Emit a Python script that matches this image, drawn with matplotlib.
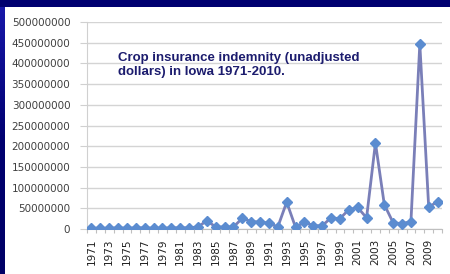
import matplotlib
matplotlib.use("Agg")
import matplotlib.pyplot as plt
import numpy as np
from matplotlib.ticker import FixedLocator
from matplotlib.colors import LinearSegmentedColormap

years = list(range(1971, 2011))
indemnity = [2e6, 2e6, 2e6, 3e6, 2e6, 3e6, 3e6, 2e6, 2e6, 3e6,
             3e6, 3e6, 5e6, 20e6, 5e6, 5e6, 5e6, 26e6, 18e6, 17e6,
             14e6, 5e6, 65e6, 4e6, 17e6, 8e6, 8e6, 27e6, 25e6, 47e6,
             52e6, 27e6, 208e6, 59e6, 15e6, 13e6, 18e6, 447e6, 53e6, 66e6]
yticks = list(range(0, 500000001, 50000000))
title_text = "Crop insurance indemnity (unadjusted\ndollars) in Iowa 1971-2010."

fig = plt.figure(figsize=(4.5, 2.74), dpi=100)
fig.patch.set_facecolor("white")

# frame bands
bg = fig.add_axes([0, 0, 1, 1], zorder=-10)
bg.axis("off")
bg.add_patch(plt.Rectangle((0, 0), 450, 7, color="#000070", lw=0))
grad = np.linspace(0, 1, 100).reshape(-1, 1)
cm = LinearSegmentedColormap.from_list("g", ["#1818a8", "#000070", "#000066"])
bg.imshow(grad, cmap=cm, extent=(0, 4.5, 274, 7), aspect="auto", origin="upper")
bg.set_xlim(0, 450); bg.set_ylim(274, 0)

ax = fig.add_axes([87/450, 1-229/274, (442-87)/450, (229-22)/274])
x = np.arange(len(years))
ax.plot(x, indemnity, color="#7a7fb8", lw=2, marker="D", markersize=5.5,
        markerfacecolor="#5b8cd0", markeredgecolor="#5b8cd0", zorder=3)
ax.set_xlim(-0.5, len(years)-0.5)
ax.set_ylim(0, 500000000)
ax.set_yticks(yticks)
ax.set_yticklabels([str(v) for v in yticks], fontsize=7.5, color="#404040")
ax.set_xticks(x[::2])
ax.set_xticklabels([str(y) for y in years[::2]], rotation=90, fontsize=7.5, color="#202020")
ax.tick_params(axis="x", length=0, pad=7)
ax.xaxis.set_minor_locator(FixedLocator(np.arange(-0.5, len(years), 1)))
ax.tick_params(axis="x", which="minor", length=3, color="#bfbfbf", width=0.8)
ax.tick_params(axis="y", length=5, color="#d0d0d0", width=0.8, pad=7)
ax.grid(axis="y", color="#d4d4d4", lw=1)
ax.set_axisbelow(True)
for s in ["top", "right"]:
    ax.spines[s].set_visible(False)
ax.spines["left"].set_color("#d0d0d0")
ax.spines["bottom"].set_color("#bfbfbf")
ax.set_facecolor("none")

fig.text(118/450, 1-52/274, title_text, fontsize=9.5, fontweight="bold",
         color="#1c1c6e", family="Liberation Sans", va="top", ha="left", linespacing=1.2)

fig.savefig("out.png", dpi=100)
